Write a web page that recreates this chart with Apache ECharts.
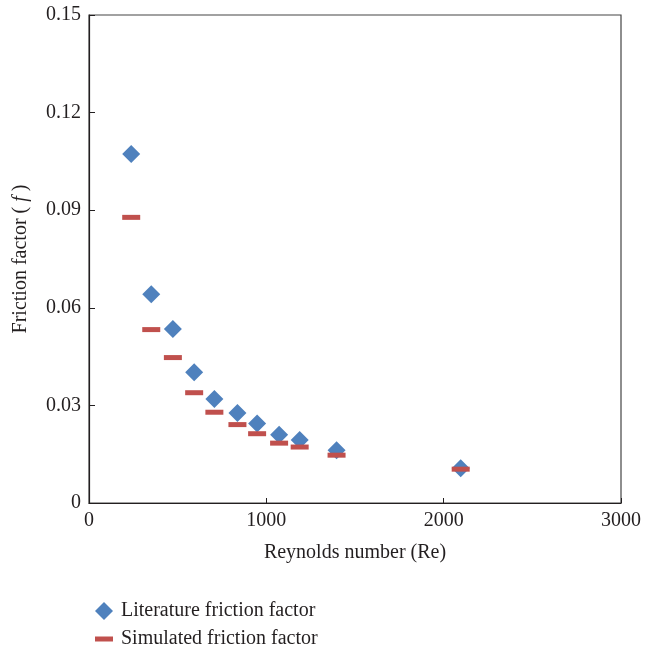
<!DOCTYPE html>
<html>
<head>
<meta charset="UTF-8">
<title>Friction factor</title>
<script src="https://cdn.jsdelivr.net/npm/echarts@6/dist/echarts.min.js"></script>
<style>
  html, body { margin: 0; padding: 0; background: #fff; }
  #chart { width: 656px; height: 650px; }
</style>
</head>
<body>
<div id="chart"></div>
<script>
    // Reynolds numbers (shared by both series)
    const reynolds = [238, 351, 473, 593, 707, 837, 948, 1072, 1188, 1396, 2096];
    const literatureF = [0.1073, 0.0642, 0.0535, 0.0402, 0.0320, 0.0277, 0.0244, 0.0210, 0.0194, 0.0162, 0.0107];
    const simulatedF = [0.0878, 0.0533, 0.0447, 0.0339, 0.0279, 0.0241, 0.0213, 0.0184, 0.0172, 0.0147, 0.0104];
    const seriesNames = ['Literature friction factor', 'Simulated friction factor'];

    const font = 'Liberation Serif';
    const ink = '#231f20';

    function pairs(xs, ys) {
        return xs.map((x, i) => [x, ys[i]]);
    }

    let chart = echarts.init(document.getElementById('chart'));
    let option = {
        animation: false,
        grid: {
            left: 89, right: 35, top: 15, bottom: 147,
            show: true, borderColor: '#444', borderWidth: 1.2
        },
        legend: [
            {
                data: [seriesNames[0]],
                left: 90, top: 596,
                itemWidth: 18, itemHeight: 18,
                textStyle: { fontFamily: font, fontSize: 20, color: ink, padding: [0, 0, 0, 3] }
            },
            {
                data: [seriesNames[1]],
                left: 90, top: 624,
                itemWidth: 18, itemHeight: 5,
                textStyle: { fontFamily: font, fontSize: 20, color: ink, padding: [0, 0, 0, 3] }
            }
        ],
        xAxis: {
            type: 'value', min: 0, max: 3000, interval: 1000,
            name: 'Reynolds number (Re)', nameLocation: 'middle', nameGap: 40,
            nameTextStyle: { fontFamily: font, fontSize: 20, color: ink },
            axisLine: { lineStyle: { color: ink, width: 1.2 } },
            axisTick: { inside: true, length: 5, lineStyle: { color: ink } },
            axisLabel: { fontFamily: font, fontSize: 20, color: ink, margin: 8, formatter: v => String(v) },
            splitLine: { show: false }
        },
        yAxis: {
            type: 'value', min: 0, max: 0.15, interval: 0.03,
            name: 'Friction factor ( {i|f} )', nameLocation: 'middle', nameGap: 58,
            nameTextStyle: {
                fontFamily: font, fontSize: 20, color: ink,
                rich: { i: { fontFamily: font, fontSize: 20, fontStyle: 'italic', color: ink } }
            },
            axisLine: { lineStyle: { color: ink, width: 1.2 } },
            axisTick: { inside: true, length: 6, lineStyle: { color: ink } },
            axisLabel: { fontFamily: font, fontSize: 20, color: ink, margin: 8 },
            splitLine: { show: false }
        },
        series: [
            {
                name: seriesNames[0], type: 'scatter',
                symbol: 'diamond', symbolSize: 18,
                itemStyle: { color: '#4f81bd', opacity: 1 },
                data: pairs(reynolds, literatureF)
            },
            {
                name: seriesNames[1], type: 'scatter',
                symbol: 'rect', symbolSize: [18, 5],
                itemStyle: { color: '#c0504d', opacity: 1 },
                data: pairs(reynolds, simulatedF)
            }
        ]
    };
    chart.setOption(option);
</script>
</body>
</html>
